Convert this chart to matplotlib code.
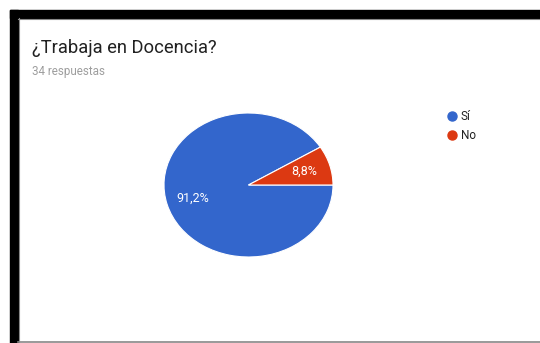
import matplotlib.pyplot as plt
from matplotlib.patches import Rectangle
from matplotlib.lines import Line2D

plt.rcParams['font.family'] = ['Roboto', 'DejaVu Sans']

# respuestas de la encuesta
etiquetas = ['Sí', 'No']
conteos = [31, 3]
colores = ['#3366CC', '#DC3912']
titulo = '¿Trabaja en Docencia?'

W, H = 540, 343
fig = plt.figure(figsize=(W / 100, H / 100), dpi=100)
fig.patch.set_facecolor('white')


def px(x, y):
    # pixel desde arriba-izquierda -> coordenadas de figura
    return x / W, 1 - y / H


# marco negro (captura de pantalla)
fig.patches.append(Rectangle(px(10, 18), 530 / W, 8 / H, transform=fig.transFigure,
                             color='black', zorder=0))
fig.patches.append(Rectangle(px(10, 343), 8 / W, 333 / H, transform=fig.transFigure,
                             color='black', zorder=0))
fig.lines.append(Line2D([18 / W, 1], [1 - 18.5 / H] * 2, transform=fig.transFigure,
                        color='#888888', lw=0.8))
fig.lines.append(Line2D([18.5 / W] * 2, [0, 1 - 18 / H], transform=fig.transFigure,
                        color='#888888', lw=0.8))
fig.lines.append(Line2D([18 / W, 1], [0.8 / H] * 2, transform=fig.transFigure,
                        color='#888888', lw=1.2))

# titulo y numero de respuestas
x, y = px(32, 48)
fig.text(x, y, titulo, fontsize=13.2, color='#212121', va='center', ha='left')
x, y = px(32, 72)
fig.text(x, y, f'{sum(conteos)} respuestas', fontsize=8.4, color='#9e9e9e',
         va='center', ha='left')

# grafico de torta (eliptico)
cx, cy, rx, ry = 248.5, 185, 84.5, 72
ax = fig.add_axes([(cx - rx) / W, (H - cy - ry) / H, 2 * rx / W, 2 * ry / H])
total = sum(conteos)
wedges, textos, pct = ax.pie(
    conteos, colors=colores, startangle=360 * conteos[1] / total,
    counterclock=True, radius=1,
    autopct=lambda p: f'{p:.1f}%'.replace('.', ','), pctdistance=0.69,
    wedgeprops=dict(edgecolor='white', linewidth=0.8),
    textprops=dict(color='white', fontsize=9))
ax.set_aspect('auto')
ax.set_xlim(-1, 1)
ax.set_ylim(-1, 1)
ax.axis('off')

# leyenda
handles = [Line2D([], [], marker='o', linestyle='none', markersize=6.5,
                  markerfacecolor=c, markeredgecolor=c) for c in colores]
fig.legend(handles, etiquetas, loc='upper left', bbox_to_anchor=px(446, 110),
           frameon=False, fontsize=8.5, handletextpad=0.15, labelspacing=0.5,
           handlelength=1.1, borderaxespad=0, borderpad=0,
           labelcolor='#222222')

fig.savefig('out.png', dpi=100)
